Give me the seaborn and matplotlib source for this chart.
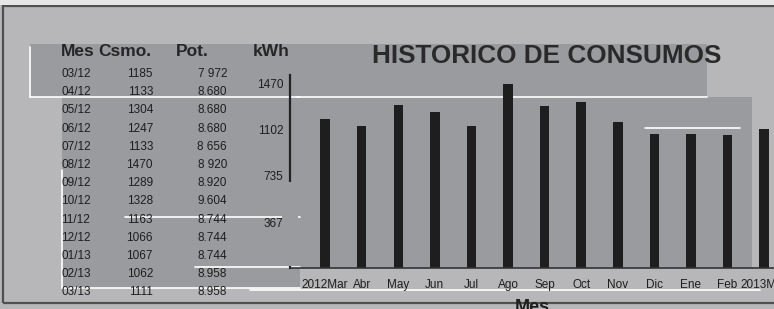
import matplotlib
matplotlib.use("Agg")
import matplotlib.pyplot as plt
from matplotlib.patches import Rectangle
import seaborn as sns
import pandas as pd

# ---- data ----
meses_tabla = ["03/12", "04/12", "05/12", "06/12", "07/12", "08/12", "09/12",
               "10/12", "11/12", "12/12", "01/13", "02/13", "03/13"]
consumo = [1185, 1133, 1304, 1247, 1133, 1470, 1289, 1328, 1163, 1066, 1067, 1062, 1111]
potencia = ["7 972", "8.680", "8.680", "8.680", "8 656", "8 920", "8.920",
            "9.604", "8.744", "8.744", "8.744", "8.958", "8.958"]
meses_eje = ["2012Mar", "Abr", "May", "Jun", "Jul", "Ago", "Sep", "Oct",
             "Nov", "Dic", "Ene", "Feb", "2013Mar"]
yticks = [367, 735, 1102, 1470]
ytick_labels = ["367", "735", "1102", "1470"]
titulo = "HISTORICO DE CONSUMOS"
encabezado = ["Mes", "Csmo.", "Pot.", "kWh"]

sns.set_theme(style="white")
plt.rcParams["font.family"] = ["Liberation Sans", "DejaVu Sans"]

W, H = 774, 309
fig = plt.figure(figsize=(W / 100, H / 100), dpi=100, facecolor="#b7b7b9")

def prect(x, y, w, h, z=-10, **kw):
    r = Rectangle((x / W, 1 - (y + h) / H), w / W, h / H,
                  transform=fig.transFigure, zorder=z, **kw)
    fig.add_artist(r)
    return r

GRAY = "#9a9b9f"
TXT = "#1e1e1e"
# scanned-page frame
prect(3, 6, 790, 297, z=-11, facecolor="none", edgecolor="#505050", lw=1.6)
prect(0, 0, W, 5, z=-11, facecolor="#e6e6e6", edgecolor="none")
# gray overlay blocks
prect(30, 44, 270, 53, facecolor=GRAY, edgecolor="none")
prect(62, 97, 238, 191, facecolor=GRAY, edgecolor="none")
prect(297, 44, 410, 53, facecolor=GRAY, edgecolor="none")
prect(297, 97, 455, 171, facecolor=GRAY, edgecolor="none")
# white seam lines
def hline(x0, x1, y, z=-9):
    fig.add_artist(plt.Line2D([x0 / W, x1 / W], [1 - y / H, 1 - y / H],
                              transform=fig.transFigure, color="white", lw=1.2, zorder=z))
def vline(x, y0, y1, z=-9):
    fig.add_artist(plt.Line2D([x / W, x / W], [1 - y0 / H, 1 - y1 / H],
                              transform=fig.transFigure, color="white", lw=1.2, zorder=z))
hline(30, 300, 97)
vline(30, 47, 97)
hline(297, 707, 97)
vline(62, 170, 288)
hline(62, 300, 288)
hline(125, 300, 217)
hline(195, 300, 267)
hline(645, 740, 128)
hline(250, 760, 290)

# ---- chart ----
ax = fig.add_axes([290 / W, 41 / H, 484 / W, 193 / H])
ax.set_facecolor("none")
df = pd.DataFrame({"Mes": meses_eje, "Consumo": consumo})
sns.barplot(data=df, x="Mes", y="Consumo", color="#1e1e1e", saturation=1,
            width=0.26, linewidth=0, ax=ax)
ax.set_xlim(-0.96, 12.27)
ax.set_ylim(0, 1540)
ax.set_yticks(yticks)
ax.set_yticklabels(ytick_labels)
ax.tick_params(axis="y", direction="inout", length=8, width=1.2, color="#222222",
               labelsize=8.5, labelcolor=TXT, pad=1)
ax.tick_params(axis="x", length=0, labelsize=8.5, labelcolor=TXT, pad=8)
for s in ["top", "right"]:
    ax.spines[s].set_visible(False)
ax.spines["left"].set_color("#222222")
ax.spines["left"].set_linewidth(1.6)
ax.spines["bottom"].set_color("#333333")
ax.spines["bottom"].set_linewidth(1.2)
ax.set_ylabel("")
ax.set_xlabel("Mes", fontsize=13, fontweight="bold", color=TXT, labelpad=6)
ax.grid(False)

# cover lower part of y axis like the reference overlay
prect(282, 182, 16, 84, z=5, facecolor=GRAY, edgecolor="none")

# title
fig.text(547 / W, 1 - 56 / H, titulo, ha="center", va="center", fontsize=18.8,
         fontweight="bold", color="#2a2a2a")

# table
hdr_x = [61, 98, 176, 253]
for t, x in zip(encabezado, hdr_x):
    fig.text(x / W, 1 - 51 / H, t, ha="left", va="center", fontsize=12.5,
             fontweight="bold", color="#262626")
for i, (m, c, p) in enumerate(zip(meses_tabla, consumo, potencia)):
    y = 1 - (74 + i * 18.2) / H
    fig.text(61 / W, y, m, ha="left", va="center", fontsize=8.5, color=TXT)
    fig.text(153 / W, y, str(c), ha="right", va="center", fontsize=8.5, color=TXT)
    fig.text(227 / W, y, p, ha="right", va="center", fontsize=8.5, color=TXT)

fig.savefig("out.png", dpi=100, facecolor=fig.get_facecolor())
